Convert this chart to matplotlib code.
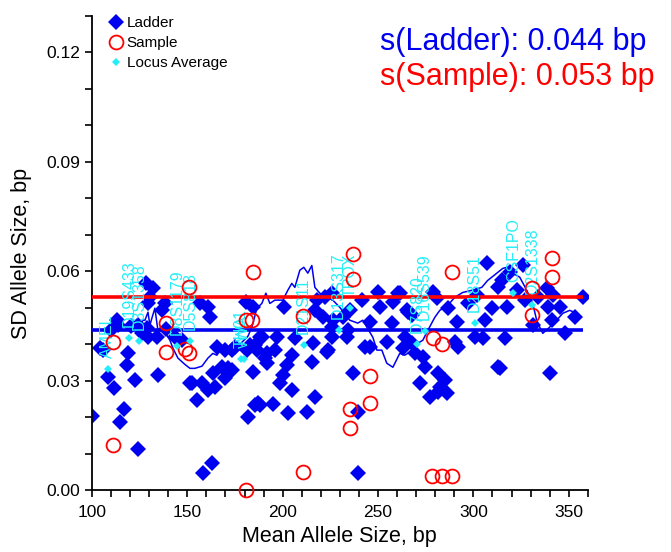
#!/usr/bin/env python3
from matplotlib import pyplot as plt
from matplotlib.ticker import MultipleLocator

plt.rcParams['font.family'] = ['Liberation Sans', 'DejaVu Sans']

# ladder allele SDs
ladder_x = [100.0, 104.2, 105.8, 108.4, 111.5, 116.8, 114.7, 124.1, 118.9, 118.3,
            122.5, 134.6, 113.1, 113.6, 128.3, 132.0, 129.4, 130.4, 138.3, 136.7,
            126.2, 129.4, 134.1, 124.1, 128.8, 138.8, 143.5, 147.2, 156.6, 160.8,
            161.8, 165.5, 169.7, 173.4, 168.1, 163.4, 173.4, 169.7, 164.5, 157.7,
            152.4, 155.0, 160.8, 158.2, 162.9, 180.7, 184.4, 181.2, 185.4, 188.1,
            184.4, 181.8, 185.4, 187.0, 200.6, 189.1, 197.0, 206.4, 174.9, 182.8,
            186.5, 190.7, 191.7, 195.9, 204.8, 202.2, 200.1, 171.3, 198.5, 204.8,
            222.1, 217.9, 225.8, 241.5, 249.9, 250.9, 257.8, 261.4, 265.1, 221.1,
            226.3, 231.6, 235.2, 234.2, 245.7, 257.2, 215.8, 223.7, 225.8, 233.6,
            243.1, 254.6, 263.0, 215.3, 236.8, 216.9, 239.4, 239.4, 212.7, 202.7,
            194.9, 188.1, 191.7, 223.2, 307.0, 267.7, 278.7, 280.8, 286.6, 291.3,
            297.1, 301.8, 306.0, 309.6, 312.8, 267.7, 269.3, 273.5, 274.5, 281.3,
            285.0, 282.4, 286.1, 271.9, 277.1, 290.3, 291.8, 300.7, 304.9, 312.8,
            264.0, 281.3, 340.0, 325.9, 319.1, 314.9, 322.7, 326.9, 338.5, 341.6,
            333.8, 339.0, 345.3, 353.1, 357.3, 341.1, 331.1, 347.9, 317.5, 316.5,
            313.8, 216.9, 225.8, 245.7, 151.4, 260.4, 265.6, 120.5, 110.0]
ladder_y = [0.0203, 0.0389, 0.0384, 0.0310, 0.0279, 0.0222, 0.0186, 0.0112, 0.0375, 0.0342,
            0.0301, 0.0315, 0.0466, 0.0452, 0.0567, 0.0553, 0.0512, 0.0529, 0.0512, 0.0493,
            0.0430, 0.0419, 0.0419, 0.0452, 0.0444, 0.0441, 0.0419, 0.0411, 0.0512, 0.0501,
            0.0474, 0.0392, 0.0384, 0.0384, 0.0337, 0.0321, 0.0329, 0.0307, 0.0282, 0.0293,
            0.0293, 0.0247, 0.0274, 0.0047, 0.0074, 0.0515, 0.0501, 0.0384, 0.0397, 0.0419,
            0.0323, 0.0200, 0.0233, 0.0238, 0.0501, 0.0419, 0.0419, 0.0416, 0.0392, 0.0397,
            0.0384, 0.0362, 0.0348, 0.0384, 0.0370, 0.0342, 0.0315, 0.0334, 0.0293, 0.0274,
            0.0529, 0.0521, 0.0540, 0.0521, 0.0542, 0.0501, 0.0515, 0.0540, 0.0493, 0.0474,
            0.0466, 0.0474, 0.0493, 0.0438, 0.0460, 0.0458, 0.0403, 0.0384, 0.0419, 0.0419,
            0.0392, 0.0405, 0.0389, 0.0351, 0.0321, 0.0255, 0.0214, 0.0047, 0.0214, 0.0211,
            0.0236, 0.0233, 0.0375, 0.0378, 0.0622, 0.0479, 0.0542, 0.0526, 0.0499, 0.0460,
            0.0512, 0.0534, 0.0466, 0.0499, 0.0556, 0.0403, 0.0375, 0.0364, 0.0337, 0.0321,
            0.0301, 0.0282, 0.0266, 0.0293, 0.0255, 0.0405, 0.0392, 0.0419, 0.0416, 0.0337,
            0.0419, 0.0268, 0.0321, 0.0616, 0.0597, 0.0575, 0.0548, 0.0521, 0.0553, 0.0534,
            0.0529, 0.0501, 0.0501, 0.0474, 0.0529, 0.0466, 0.0452, 0.0430, 0.0501, 0.0416,
            0.0334, 0.0493, 0.0447, 0.0392, 0.0293, 0.0540, 0.0488, 0.0450, 0.0440]

# sample allele SDs
sample_x = [111.0, 111.0, 138.8, 138.8, 148.7, 150.8, 150.8, 184.4, 180.7, 183.8,
            180.7, 237.0, 237.0, 210.6, 245.7, 245.7, 235.3, 235.3, 210.6, 289.0,
            278.7, 283.4, 278.2, 283.4, 289.0, 341.0, 341.0, 331.0, 331.0]
sample_y = [0.0405, 0.0123, 0.0457, 0.0380, 0.0386, 0.0375, 0.0556, 0.0597, 0.0466, 0.0466,
            0.0000, 0.0647, 0.0578, 0.0477, 0.0312, 0.0240, 0.0222, 0.0170, 0.0049, 0.0597,
            0.0416, 0.0400, 0.0038, 0.0038, 0.0038, 0.0636, 0.0584, 0.0553, 0.0480]

# locus averages
loci = ["AMEL", "D19S433", "D3S1358", "D8S1179", "D5S818", "TH01", "vWA",
        "D21S11", "D13S317", "TPOX", "D7S820", "D16S539", "D18S51", "CSF1PO", "D2S1338"]
locus_x = [108.4, 119.4, 124.6, 144.5, 151.4, 178.0, 179.5,
           211.0, 229.4, 235.2, 270.5, 274.5, 300.7, 321.0, 331.0]
locus_y = [0.0332, 0.0416, 0.0410, 0.0394, 0.0410, 0.0360, 0.0360,
           0.0397, 0.0438, 0.0499, 0.0400, 0.0436, 0.0457, 0.0540, 0.0507]

# running ladder trace
trend_x = [125.2, 126.7, 127.8, 129.4, 130.4, 131.4, 133.0, 134.6, 138.3, 140.9,
           142.5, 145.1, 148.7, 151.4, 154.0, 157.7, 160.8, 163.4, 165.5, 168.1,
           171.3, 175.0, 177.6, 181.8, 183.9, 186.5, 189.1, 191.2, 193.3, 195.9,
           200.1, 202.7, 204.8, 206.4, 209.0, 211.1, 213.2, 215.3, 216.9, 219.5,
           226.3, 230.0, 235.2, 239.4, 242.0, 247.3, 249.4, 252.0, 254.6, 257.8,
           261.4, 264.0, 268.2, 270.9, 273.5, 276.1, 279.8, 282.4, 286.6, 290.3,
           294.4, 299.2, 304.4, 307.5, 312.3, 315.4, 317.5, 320.6, 324.3, 328.0,
           331.1, 333.2, 334.8, 336.4, 340.0, 343.7, 346.9, 350.5, 354.2]
trend_y = [0.0447, 0.0466, 0.0466, 0.0488, 0.0452, 0.0471, 0.0499, 0.0438, 0.0433, 0.0411,
           0.0389, 0.0362, 0.0345, 0.0334, 0.0334, 0.0340, 0.0362, 0.0375, 0.0370, 0.0389,
           0.0392, 0.0389, 0.0400, 0.0422, 0.0447, 0.0499, 0.0512, 0.0540, 0.0512, 0.0521,
           0.0521, 0.0548, 0.0567, 0.0556, 0.0603, 0.0611, 0.0595, 0.0616, 0.0556, 0.0540,
           0.0521, 0.0501, 0.0466, 0.0458, 0.0466, 0.0419, 0.0384, 0.0384, 0.0348, 0.0337,
           0.0375, 0.0370, 0.0384, 0.0403, 0.0411, 0.0438, 0.0474, 0.0493, 0.0507, 0.0529,
           0.0542, 0.0548, 0.0556, 0.0575, 0.0595, 0.0608, 0.0611, 0.0595, 0.0584, 0.0548,
           0.0512, 0.0466, 0.0447, 0.0430, 0.0447, 0.0466, 0.0485, 0.0493, 0.0485]

ladder_sd = 0.044
sample_sd = 0.053

BLUE = '#0000f0'
RED = '#ff0000'
CYAN = '#22eefa'

fig = plt.figure(figsize=(6.71, 5.52), dpi=100)
ax = fig.add_axes([0.137, 0.112, 0.739, 0.859])

ax.plot(ladder_x, ladder_y, 'D', color=BLUE, markersize=8, markeredgewidth=0,
        label='Ladder', zorder=2)
ax.plot(trend_x, trend_y, '-', color=BLUE, linewidth=1.1, zorder=3)
ax.hlines(ladder_sd, min(ladder_x), max(ladder_x), color=BLUE, linewidth=2.6, zorder=3)
ax.hlines(sample_sd, min(ladder_x), max(ladder_x), color=RED, linewidth=2.6, zorder=3)

# locus names above their average markers
for name, lx, ly in zip(loci, locus_x, locus_y):
    ax.annotate(name, (lx, ly), xytext=(0, 8), textcoords='offset points',
                rotation=90, ha='center', va='bottom', color=CYAN,
                fontsize=11.5, zorder=3.5)

ax.plot(sample_x, sample_y, 'o', markerfacecolor='none', markeredgecolor=RED,
        markersize=10, markeredgewidth=1.3, label='Sample', zorder=4, clip_on=False)
ax.plot(locus_x, locus_y, 'D', color=CYAN, markersize=4, markeredgewidth=0,
        label='Locus Average', zorder=5)

ax.text(0.581, 0.945, 's(Ladder): %.3f bp' % ladder_sd, transform=ax.transAxes,
        color=BLUE, fontsize=22, va='center', ha='left')
ax.text(0.581, 0.871, 's(Sample): %.3f bp' % sample_sd, transform=ax.transAxes,
        color=RED, fontsize=22, va='center', ha='left')

ax.set_xlim(100, 360)
ax.set_ylim(0, 0.13)
ax.xaxis.set_major_locator(MultipleLocator(50))
ax.xaxis.set_minor_locator(MultipleLocator(10))
ax.yaxis.set_major_locator(MultipleLocator(0.03))
ax.yaxis.set_minor_locator(MultipleLocator(0.01))
ax.yaxis.set_major_formatter(plt.FormatStrFormatter('%.2f'))
ax.tick_params(which='both', direction='out', length=5, width=1.2, labelsize=12.5)
ax.tick_params(axis='x', pad=6)
for side in ('top', 'right'):
    ax.spines[side].set_visible(False)
for side in ('left', 'bottom'):
    ax.spines[side].set_linewidth(1.3)

ax.set_xlabel('Mean Allele Size, bp', fontsize=15.5, labelpad=4)
ax.set_ylabel('SD Allele Size, bp', fontsize=15.5, labelpad=10)

ax.legend(loc='upper left', bbox_to_anchor=(0.03, 1.0), frameon=False,
          fontsize=11, handletextpad=0.1, handlelength=1.2, labelspacing=0.4,
          borderpad=0, borderaxespad=0)

plt.savefig('out.png', dpi=100)
